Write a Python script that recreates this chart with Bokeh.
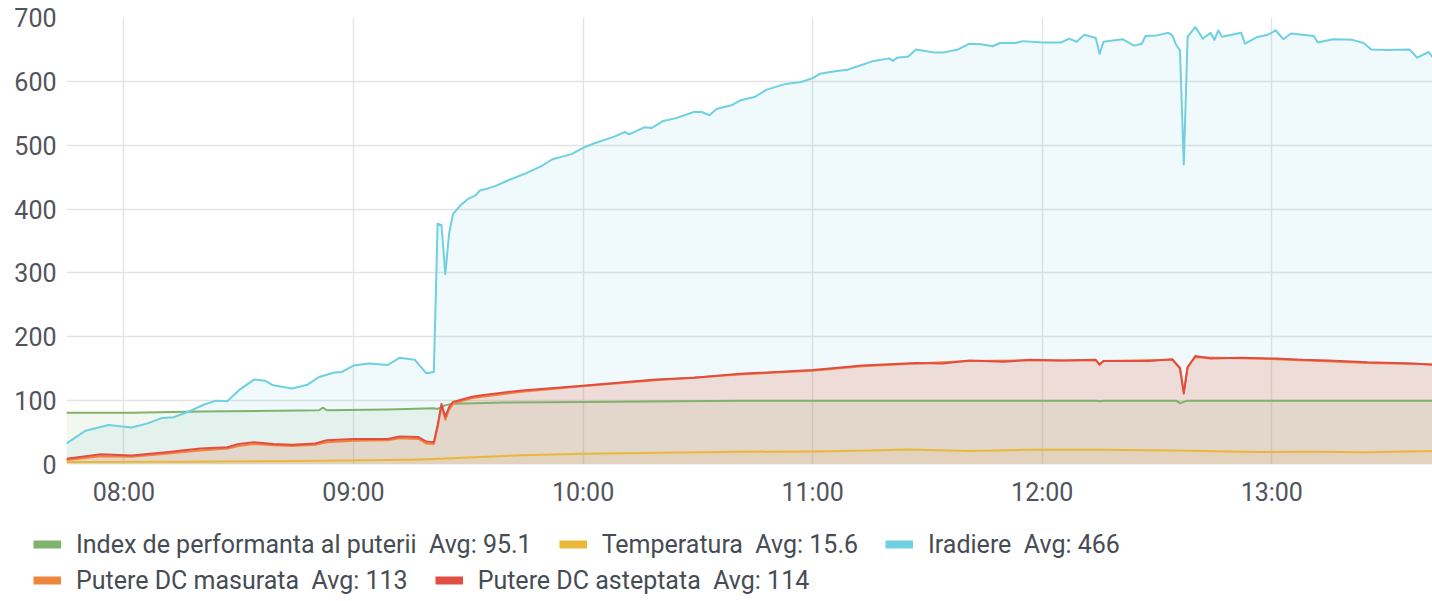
import pandas as pd
from bokeh.plotting import figure
from bokeh.models import Range1d, FixedTicker, DatetimeTickFormatter, Legend, LegendItem
from bokeh.embed import file_html
from bokeh.resources import INLINE

DAY = "2024-05-01 "

# ---- data ----
index_t = ["07:45", "08:02", "08:20", "08:40", "08:51", "08:52", "08:53", "09:09", "09:21", "09:22",
           "09:24", "09:26", "09:40", "10:00", "10:41", "12:14", "12:15", "12:16", "12:35", "12:36",
           "12:37", "12:38", "13:42"]
index_v = [81, 81, 83, 84, 85, 89, 85, 86, 88, 87,
           93, 95, 97, 98, 100, 100, 99, 100, 100, 96,
           98, 100, 100]

temp_t = ["07:45", "08:15", "08:45", "09:15", "09:21", "09:30", "09:44", "10:00", "10:20", "10:41",
          "11:00", "11:15", "11:25", "11:41", "11:57", "12:15", "12:35", "12:56", "13:10", "13:25", "13:42"]
temp_v = [4, 4.5, 5.5, 7.5, 8.5, 11, 14.5, 17, 18.5, 20,
          20.5, 22, 23.5, 21, 23, 23, 22, 19.5, 20, 19, 21]

irad_t = ["07:45", "07:50", "07:56", "08:02", "08:06", "08:10", "08:13", "08:17", "08:21", "08:24",
          "08:27", "08:30", "08:34", "08:37", "08:39", "08:44", "08:48", "08:51", "08:55", "08:57",
          "09:00", "09:04", "09:09", "09:12", "09:16", "09:19", "09:21", "09:22", "09:23", "09:24",
          "09:25", "09:26", "09:28", "09:30", "09:32", "09:33", "09:35", "09:37", "09:40", "09:45",
          "09:49", "09:52", "09:57", "10:00", "10:03", "10:08", "10:11", "10:12", "10:16", "10:18",
          "10:21", "10:24", "10:29", "10:31", "10:33", "10:35", "10:39", "10:41", "10:45", "10:48",
          "10:53", "10:57", "11:00", "11:02", "11:05", "11:09", "11:12", "11:16", "11:20", "11:21",
          "11:22", "11:25", "11:27", "11:29", "11:32", "11:34", "11:38", "11:41", "11:44", "11:47",
          "11:49", "11:53", "11:55", "12:00", "12:05", "12:07", "12:09", "12:11", "12:14", "12:15",
          "12:16", "12:21", "12:24", "12:26", "12:27", "12:30", "12:33", "12:34", "12:35", "12:36",
          "12:37", "12:38", "12:40", "12:42", "12:44", "12:45", "12:46", "12:47", "12:52", "12:53",
          "12:56", "12:59", "13:01", "13:03", "13:05", "13:11", "13:12", "13:16", "13:21", "13:24",
          "13:26", "13:30", "13:36", "13:38", "13:41", "13:42"]
irad_v = [33, 53, 62, 58, 64, 73, 74, 83, 94, 100,
          99, 116, 133, 131, 124, 119, 125, 137, 144, 145,
          155, 158, 156, 167, 164, 143, 145, 377, 375, 298,
          362, 392, 406, 416, 422, 429, 432, 436, 444, 456,
          467, 478, 486, 496, 503, 513, 521, 517, 528, 527,
          538, 542, 552, 552, 547, 557, 563, 570, 576, 587,
          596, 599, 605, 612, 615, 618, 624, 632, 636, 632,
          637, 639, 650, 648, 645, 645, 650, 659, 658, 655,
          660, 660, 663, 661, 661, 667, 662, 673, 668, 643,
          662, 666, 656, 659, 671, 672, 676, 672, 657, 649,
          470, 670, 685, 667, 676, 665, 680, 670, 676, 659,
          669, 673, 680, 666, 675, 671, 661, 666, 665, 660,
          650, 649, 650, 637, 646, 638]

mas_t = ["07:45", "07:54", "08:02", "08:11", "08:20", "08:27", "08:30", "08:34", "08:39", "08:44",
         "08:50", "08:53", "09:00", "09:09", "09:12", "09:17", "09:19", "09:21", "09:22", "09:23",
         "09:24", "09:25", "09:26", "09:31", "09:44", "09:59", "10:19", "10:41", "11:00", "11:13",
         "11:27", "11:41", "11:57", "12:14", "12:15", "12:16", "12:34", "12:36", "12:37", "12:38",
         "12:40", "13:01", "13:25", "13:42"]
mas_v = [7, 13, 12, 17, 22, 25, 29, 32, 30, 29,
         31, 35, 37, 38, 41, 40, 33, 32, 58, 92,
         70, 86, 95, 104, 114, 122, 132, 141, 147, 154,
         158, 162, 163, 163, 157, 162, 164, 152, 114, 153,
         168, 165, 159, 157]

ast_t = ["07:45", "07:54", "08:02", "08:11", "08:20", "08:27", "08:30", "08:34", "08:39", "08:44",
         "08:50", "08:53", "09:00", "09:09", "09:12", "09:17", "09:19", "09:21", "09:22", "09:23",
         "09:24", "09:25", "09:26", "09:31", "09:33", "09:44", "09:59", "10:19", "10:29", "10:41",
         "11:00", "11:13", "11:27", "11:34", "11:41", "11:50", "11:57", "12:05", "12:14", "12:15",
         "12:16", "12:28", "12:34", "12:36", "12:37", "12:38", "12:40", "12:44", "12:52", "13:01",
         "13:08", "13:15", "13:25", "13:37", "13:42"]
ast_v = [9, 16, 14, 19, 25, 27, 32, 35, 32, 31,
         33, 38, 40, 40, 44, 43, 36, 35, 62, 95,
         75, 90, 98, 106, 108, 116, 123, 133, 136, 142,
         148, 155, 159, 158, 163, 161, 164, 163, 164, 156,
         162, 162, 165, 150, 111, 152, 170, 166, 167, 166,
         164, 163, 160, 158, 156]

series = [
    ("Index de performanta al puterii", "95.1", index_t, index_v, "#7EB26D"),
    ("Temperatura", "15.6", temp_t, temp_v, "#EAB839"),
    ("Iradiere", "466", irad_t, irad_v, "#6ED0E0"),
    ("Putere DC masurata", "113", mas_t, mas_v, "#EF843C"),
    ("Putere DC asteptata", "114", ast_t, ast_v, "#E24D42"),
]

y_ticks = [0, 100, 200, 300, 400, 500, 600, 700]
x_tick_labels = ["08:00", "09:00", "10:00", "11:00", "12:00", "13:00"]


def to_dt(lst):
    return pd.to_datetime([DAY + t for t in lst])


x0 = pd.Timestamp(DAY + "07:45:00")
x1 = pd.Timestamp(DAY + "13:42:00")

p = figure(x_axis_type="datetime", output_backend="svg", toolbar_location=None,
           width=1432, height=514,
           x_range=Range1d(x0, x1), y_range=Range1d(0, 700),
           min_border_left=66, min_border_right=0, min_border_top=17, min_border_bottom=50)
p.outline_line_color = None
p.background_fill_color = "white"
p.border_fill_color = "white"

TXT = "#52545c"
FONT = "Roboto"

# axes
p.yaxis.ticker = FixedTicker(ticks=y_ticks)
p.xaxis.ticker = FixedTicker(ticks=[pd.Timestamp(DAY + t).value // 10**6 for t in x_tick_labels])
p.xaxis.formatter = DatetimeTickFormatter(hours="%H:%M", hourmin="%H:%M", minutes="%H:%M",
                                          minsec="%H:%M", days="%H:%M")
for ax in (p.xaxis[0], p.yaxis[0]):
    ax.axis_line_color = None
    ax.major_tick_line_color = None
    ax.minor_tick_line_color = None
    ax.major_tick_out = 0
    ax.major_tick_in = 0
    ax.minor_tick_out = 0
    ax.major_label_text_font = FONT
    ax.major_label_text_font_size = "25px"
    ax.major_label_text_color = TXT
p.yaxis.major_label_standoff = 10
p.xaxis.major_label_standoff = 13

p.grid.grid_line_color = "#e4e4e4"
p.grid.grid_line_width = 1.5

# fills
for name, avg, t, v, c in series:
    p.varea(x=to_dt(t), y1=[0] * len(v), y2=v, fill_color=c, fill_alpha=0.1)
# lines
for name, avg, t, v, c in series:
    p.line(x=to_dt(t), y=v, line_color=c, line_width=2, line_join="round")

# ---- legend strip (separate root under the chart) ----
LEG_H = 87
lg = figure(output_backend="svg", toolbar_location=None, width=1432, height=LEG_H,
            x_range=Range1d(0, 1432), y_range=Range1d(0, LEG_H),
            x_axis_location=None, y_axis_location=None, min_border=0,
            min_border_left=0, min_border_right=0, min_border_top=0, min_border_bottom=0)
lg.outline_line_color = None
lg.grid.visible = False
lg.border_fill_color = "white"

items = []
for name, avg, t, v, c in series:
    r = lg.line(x=[-10, -10], y=[-10, -10], line_color=c, line_width=8, line_cap="butt")
    items.append(LegendItem(label=name + "\u00a0\u00a0Avg: " + avg, renderers=[r]))


def make_legend(its, loc):
    return Legend(items=its, orientation="horizontal", location=loc, margin=0, padding=0,
                  spacing=27, label_standoff=15, glyph_width=28, glyph_height=30, label_height=30,
                  label_text_font=FONT, label_text_font_size="25px", label_text_color="#464c54",
                  border_line_color=None, background_fill_alpha=0)


lg.add_layout(make_legend(items[:3], (33, 42)), "center")
lg.add_layout(make_legend(items[3:], (33, 6)), "center")

open("out.html", "w").write(file_html([p, lg], INLINE))
